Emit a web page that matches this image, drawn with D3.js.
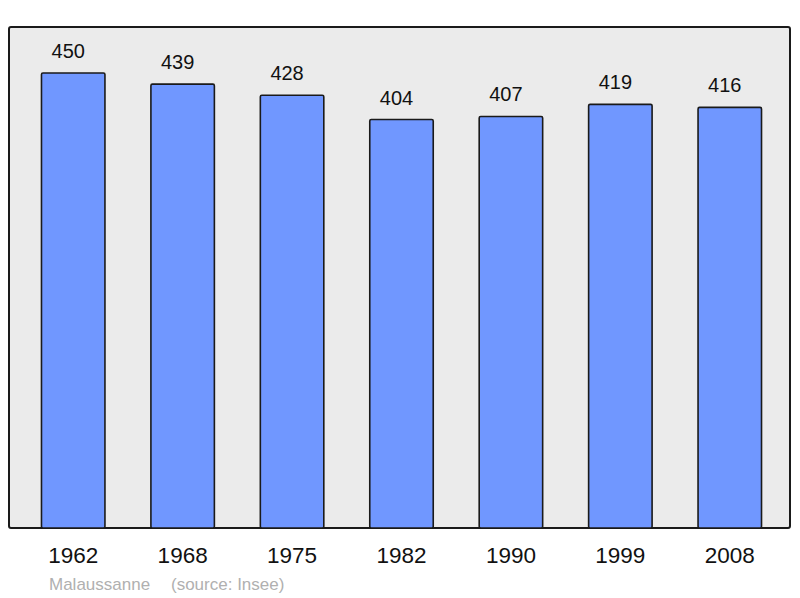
<!DOCTYPE html>
<html><head><meta charset="utf-8">
<script src="https://cdn.jsdelivr.net/npm/d3@7"></script>
<style>body{margin:0;background:#fff}svg{display:block}</style>
</head><body>
<script>
const years = ["1962","1968","1975","1982","1990","1999","2008"];
const population = [450,439,428,404,407,419,416];
const placeName = "Malaussanne";
const sourceText = "(source: Insee)";

const W=800,H=598;
const svg=d3.select("body").append("svg").attr("width",W).attr("height",H);
const font="'Liberation Sans', Arial, sans-serif";

svg.append("rect").attr("x",9).attr("y",27).attr("width",781).attr("height",501)
  .attr("rx",2).attr("fill","#ebebeb").attr("stroke","#1a1a1a").attr("stroke-width",2);

const x=d3.scaleBand().domain(years).range([18.5,784.5]).paddingInner(0.42).paddingOuter(0.21);
const y=d3.scaleLinear().domain([0,495.5]).range([528,27]);

svg.selectAll("rect.bar").data(population).join("rect").attr("class","bar")
  .attr("x",(d,i)=>x(years[i])).attr("width",x.bandwidth())
  .attr("y",d=>y(d)).attr("height",d=>y(0)-y(d))
  .attr("rx",1.5)
  .attr("fill","#7097ff").attr("stroke","#1a1a1a").attr("stroke-width",1.6);

svg.selectAll("text.val").data(population).join("text").attr("class","val")
  .attr("x",(d,i)=>x(years[i])+x.bandwidth()/2-5).attr("y",d=>y(d)-15)
  .attr("text-anchor","middle").attr("font-family",font).attr("font-size",20)
  .attr("fill","#111").text(d=>d);

const xAxis=svg.append("g").attr("transform","translate(0,528)")
  .call(d3.axisBottom(x).tickSize(0).tickPadding(0));
xAxis.select(".domain").remove();
xAxis.selectAll("text").attr("dy",null).attr("y",35).attr("font-family",font)
  .attr("font-size",22.5).attr("fill","#111");

svg.append("text").attr("x",49).attr("y",590).attr("font-family",font)
  .attr("font-size",17).attr("fill","#b0b0b0").text(placeName);
svg.append("text").attr("x",171).attr("y",590).attr("font-family",font)
  .attr("font-size",17).attr("fill","#b0b0b0").text(sourceText);
</script>
</body></html>
